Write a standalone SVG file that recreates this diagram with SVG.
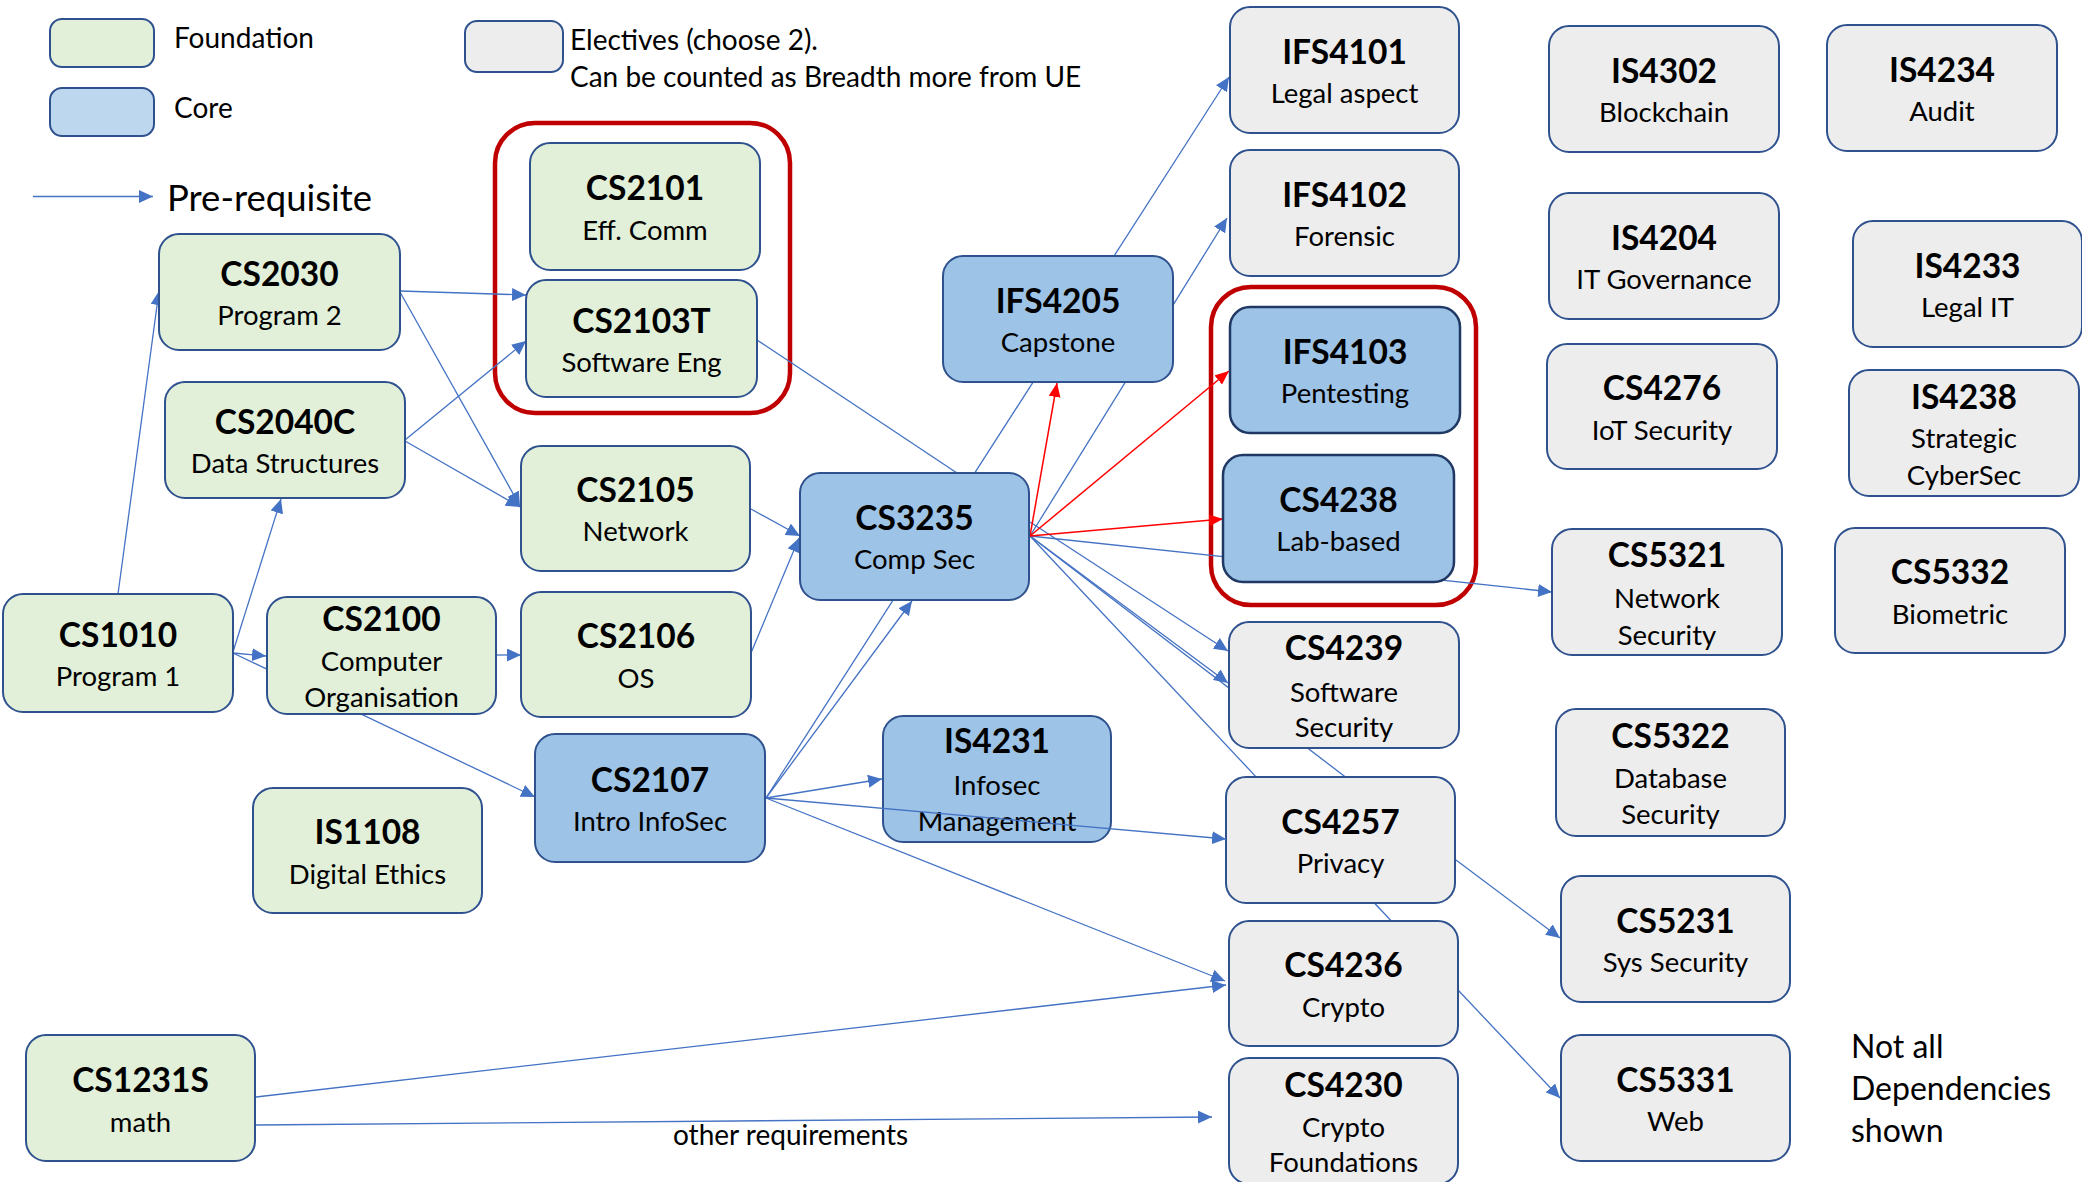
<svg xmlns="http://www.w3.org/2000/svg" width="2082" height="1182" viewBox="0 0 2082 1182">
<defs>
<style>
.f{fill:#E2F0D9;stroke:#2F528F;stroke-width:2}
.c{fill:#9DC3E6;stroke:#2F528F;stroke-width:2}
.cd{fill:#9DC3E6;stroke:#1F3864;stroke-width:2.5}
.e{fill:#EDEDED;stroke:#2F528F;stroke-width:2}
.t{font-family:Lato,"Liberation Sans",sans-serif;font-weight:bold;font-size:33.5px;fill:#000;text-anchor:middle}
.s{font-family:Lato,"Liberation Sans",sans-serif;font-size:27.5px;fill:#000;text-anchor:middle}
.l{font-family:Lato,"Liberation Sans",sans-serif;font-size:28px;fill:#000}
.b{stroke:#4472C4;stroke-width:1.3;fill:none}
.ba{stroke:#4472C4;stroke-width:1.3;fill:none;marker-end:url(#ab)}
.ra{stroke:#FF0000;stroke-width:1.5;fill:none;marker-end:url(#ar)}
.rb{fill:none;stroke:#C00000;stroke-width:4.5}
</style>
<marker id="ab" markerUnits="userSpaceOnUse" markerWidth="14" markerHeight="13" refX="14" refY="6.5" orient="auto"><path d="M0,0 L14,6.5 L0,13 z" fill="#4472C4"/></marker>
<marker id="ar" markerUnits="userSpaceOnUse" markerWidth="14" markerHeight="12" refX="14" refY="6" orient="auto"><path d="M0,0 L14,6 L0,12 z" fill="#FF0000"/></marker>
</defs>
<rect width="2082" height="1182" fill="#fff"/>

<g id="legend">
<rect x="50" y="19" width="104" height="48" rx="12" class="f"/>
<text x="174" y="48" class="l">Foundation</text>
<rect x="50" y="88" width="104" height="48" rx="12" fill="#BDD7EE" stroke="#2F528F" stroke-width="2"/>
<text x="174" y="118" class="l">Core</text>
<rect x="465" y="21" width="98" height="51" rx="12" class="e"/>
<text x="570" y="50" class="l">Electives (choose 2).</text>
<text x="570" y="87" class="l">Can be counted as Breadth more from UE</text>
<line x1="33" y1="196.5" x2="153" y2="196.5" class="ba"/>
<text x="167" y="211" class="l" style="font-size:36.5px">Pre-requisite</text>
</g>

<g id="groups">
<rect x="495" y="123" width="295" height="290" rx="40" class="rb"/>
<rect x="1211" y="287" width="265" height="318" rx="40" class="rb"/>
</g>

<g id="connectors">
<line x1="118" y1="594" x2="159" y2="291" class="ba"/>
<line x1="233" y1="652" x2="281" y2="499" class="ba"/>
<line x1="233" y1="653" x2="266" y2="656" class="ba"/>
<line x1="233" y1="653" x2="535" y2="797" class="ba"/>
<line x1="496" y1="655" x2="521" y2="655" class="ba"/>
<line x1="400" y1="291" x2="526" y2="295" class="ba"/>
<line x1="400" y1="292" x2="520" y2="506" class="ba"/>
<line x1="405" y1="440" x2="526" y2="341" class="ba"/>
<line x1="405" y1="441" x2="520" y2="507" class="ba"/>
<line x1="751" y1="509" x2="800" y2="536" class="ba"/>
<line x1="751" y1="653" x2="799" y2="538" class="ba"/>
<line x1="757" y1="340" x2="960" y2="475" class="b"/>
<line x1="766" y1="798" x2="1229" y2="77" class="ba"/>
<line x1="766" y1="798" x2="912" y2="601" class="ba"/>
<line x1="766" y1="798" x2="882" y2="779" class="ba"/>
<line x1="766" y1="798" x2="1225" y2="981" class="ba"/>
<line x1="1030" y1="536" x2="1227" y2="218" class="ba"/>
<line x1="1030" y1="522" x2="1228" y2="651" class="ba"/>
<line x1="1030" y1="536" x2="1228" y2="683" class="ba"/>
<line x1="1030" y1="536" x2="1352" y2="782" class="b"/>
<line x1="1030" y1="536" x2="1396" y2="926" class="b"/>
<line x1="1030" y1="536" x2="1552" y2="592" class="ba"/>
<line x1="256" y1="1097" x2="1226" y2="985" class="ba"/>
<line x1="256" y1="1125" x2="1212" y2="1117" class="ba"/>
<line x1="1456" y1="860" x2="1560" y2="938" class="ba"/>
<line x1="1458" y1="990" x2="1560" y2="1098" class="ba"/>
<line x1="1030" y1="536" x2="1057" y2="383" class="ra"/>
<line x1="1030" y1="536" x2="1229" y2="371" class="ra"/>
<line x1="1030" y1="536" x2="1223" y2="519" class="ra"/>
</g>

<g id="CS2030"><rect x="159" y="234" width="241" height="116" rx="20" class="f"/><text x="279.5" y="286" class="t">CS2030</text><text x="279.5" y="325" class="s">Program 2</text></g>
<g id="CS2040C"><rect x="165" y="382" width="240" height="116" rx="20" class="f"/><text x="285" y="434" class="t">CS2040C</text><text x="285" y="473" class="s">Data Structures</text></g>
<g id="CS1010"><rect x="3" y="594" width="230" height="118" rx="20" class="f"/><text x="118" y="647" class="t">CS1010</text><text x="118" y="686" class="s">Program 1</text></g>
<g id="CS2100"><rect x="267" y="597" width="229" height="117" rx="20" class="f"/><text x="381.5" y="631" class="t">CS2100</text><text x="381.5" y="671" class="s">Computer</text><text x="381.5" y="707" class="s">Organisation</text></g>
<g id="CS2101"><rect x="530" y="143" width="230" height="127" rx="20" class="f"/><text x="645" y="200" class="t">CS2101</text><text x="645" y="240" class="s">Eff. Comm</text></g>
<g id="CS2103T"><rect x="526" y="280" width="231" height="117" rx="20" class="f"/><text x="641.5" y="333" class="t">CS2103T</text><text x="641.5" y="372" class="s">Software Eng</text></g>
<g id="CS2105"><rect x="521" y="446" width="229" height="125" rx="20" class="f"/><text x="635.5" y="502" class="t">CS2105</text><text x="635.5" y="541" class="s">Network</text></g>
<g id="CS2106"><rect x="521" y="592" width="230" height="125" rx="20" class="f"/><text x="636" y="648" class="t">CS2106</text><text x="636" y="688" class="s">OS</text></g>
<g id="IS1108"><rect x="253" y="788" width="229" height="125" rx="20" class="f"/><text x="367.5" y="844" class="t">IS1108</text><text x="367.5" y="884" class="s">Digital Ethics</text></g>
<g id="CS1231S"><rect x="26" y="1035" width="229" height="126" rx="20" class="f"/><text x="140.5" y="1092" class="t">CS1231S</text><text x="140.5" y="1132" class="s">math</text></g>

<g id="CS2107"><rect x="535" y="734" width="230" height="128" rx="20" class="c"/><text x="650" y="792" class="t">CS2107</text><text x="650" y="831" class="s">Intro InfoSec</text></g>
<g id="CS3235"><rect x="800" y="473" width="229" height="127" rx="20" class="c"/><text x="914.5" y="530" class="t">CS3235</text><text x="914.5" y="569" class="s">Comp Sec</text></g>
<g id="IFS4205"><rect x="943" y="256" width="230" height="126" rx="20" class="c"/><text x="1058" y="313" class="t">IFS4205</text><text x="1058" y="352" class="s">Capstone</text></g>
<g id="IS4231"><rect x="883" y="716" width="228" height="126" rx="20" class="c"/><text x="997" y="753" class="t">IS4231</text><text x="997" y="795" class="s">Infosec</text><text x="997" y="831" class="s">Management</text></g>
<g id="IFS4103"><rect x="1230" y="307" width="230" height="126" rx="20" class="cd"/><text x="1345" y="364" class="t">IFS4103</text><text x="1345" y="403" class="s">Pentesting</text></g>
<g id="CS4238"><rect x="1223" y="455" width="231" height="127" rx="20" class="cd"/><text x="1338.5" y="512" class="t">CS4238</text><text x="1338.5" y="551" class="s">Lab-based</text></g>

<g id="IFS4101"><rect x="1230" y="7" width="229" height="126" rx="20" class="e"/><text x="1344.5" y="64" class="t">IFS4101</text><text x="1344.5" y="103" class="s">Legal aspect</text></g>
<g id="IFS4102"><rect x="1230" y="150" width="229" height="126" rx="20" class="e"/><text x="1344.5" y="207" class="t">IFS4102</text><text x="1344.5" y="246" class="s">Forensic</text></g>
<g id="CS4239"><rect x="1229" y="622" width="230" height="126" rx="20" class="e"/><text x="1344" y="660" class="t">CS4239</text><text x="1344" y="702" class="s">Software</text><text x="1344" y="737" class="s">Security</text></g>
<g id="CS4257"><rect x="1226" y="777" width="229" height="126" rx="20" class="e"/><text x="1340.5" y="834" class="t">CS4257</text><text x="1340.5" y="873" class="s">Privacy</text></g>
<g id="CS4236"><rect x="1229" y="921" width="229" height="125" rx="20" class="e"/><text x="1343.5" y="977" class="t">CS4236</text><text x="1343.5" y="1017" class="s">Crypto</text></g>
<g id="CS4230"><rect x="1229" y="1058" width="229" height="126" rx="20" class="e"/><text x="1343.5" y="1097" class="t">CS4230</text><text x="1343.5" y="1137" class="s">Crypto</text><text x="1343.5" y="1172" class="s">Foundations</text></g>
<g id="IS4302"><rect x="1549" y="26" width="230" height="126" rx="20" class="e"/><text x="1664" y="83" class="t">IS4302</text><text x="1664" y="122" class="s">Blockchain</text></g>
<g id="IS4234"><rect x="1827" y="25" width="230" height="126" rx="20" class="e"/><text x="1942" y="82" class="t">IS4234</text><text x="1942" y="121" class="s">Audit</text></g>
<g id="IS4204"><rect x="1549" y="193" width="230" height="126" rx="20" class="e"/><text x="1664" y="250" class="t">IS4204</text><text x="1664" y="289" class="s">IT Governance</text></g>
<g id="IS4233"><rect x="1853" y="221" width="229" height="126" rx="20" class="e"/><text x="1967.5" y="278" class="t">IS4233</text><text x="1967.5" y="317" class="s">Legal IT</text></g>
<g id="CS4276"><rect x="1547" y="344" width="230" height="125" rx="20" class="e"/><text x="1662" y="400" class="t">CS4276</text><text x="1662" y="440" class="s">IoT Security</text></g>
<g id="IS4238"><rect x="1849" y="370" width="230" height="126" rx="20" class="e"/><text x="1964" y="409" class="t">IS4238</text><text x="1964" y="448" class="s">Strategic</text><text x="1964" y="485" class="s">CyberSec</text></g>
<g id="CS5321"><rect x="1552" y="529" width="230" height="126" rx="20" class="e"/><text x="1667" y="567" class="t">CS5321</text><text x="1667" y="608" class="s">Network</text><text x="1667" y="645" class="s">Security</text></g>
<g id="CS5332"><rect x="1835" y="528" width="230" height="125" rx="20" class="e"/><text x="1950" y="584" class="t">CS5332</text><text x="1950" y="624" class="s">Biometric</text></g>
<g id="CS5322"><rect x="1556" y="709" width="229" height="127" rx="20" class="e"/><text x="1670.5" y="748" class="t">CS5322</text><text x="1670.5" y="788" class="s">Database</text><text x="1670.5" y="824" class="s">Security</text></g>
<g id="CS5231"><rect x="1561" y="876" width="229" height="126" rx="20" class="e"/><text x="1675.5" y="933" class="t">CS5231</text><text x="1675.5" y="972" class="s">Sys Security</text></g>
<g id="CS5331"><rect x="1561" y="1035" width="229" height="126" rx="20" class="e"/><text x="1675.5" y="1092" class="t">CS5331</text><text x="1675.5" y="1131" class="s">Web</text></g>

<g id="connectors-front">
<line x1="766" y1="798" x2="1226" y2="839" class="ba"/>
</g>

<g id="notes">
<text x="673" y="1145" class="l">other requirements</text>
<text x="1851" y="1058" class="l" style="font-size:32px">Not all</text>
<text x="1851" y="1100" class="l" style="font-size:32px">Dependencies</text>
<text x="1851" y="1142" class="l" style="font-size:32px">shown</text>
</g>
</svg>
